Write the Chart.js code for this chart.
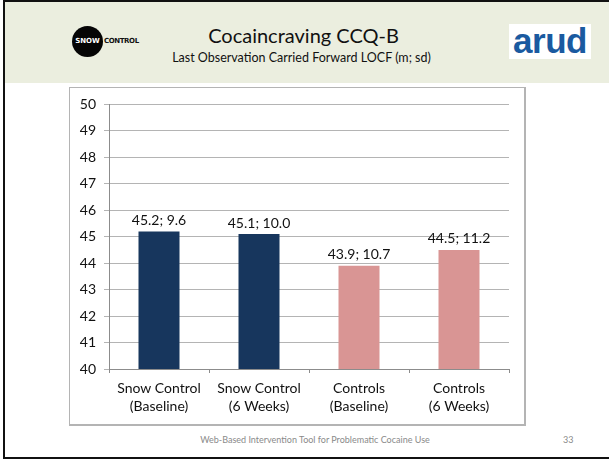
<!DOCTYPE html>
<html>
<head>
<meta charset="utf-8">
<script src="https://cdn.jsdelivr.net/npm/chart.js@4/dist/chart.umd.min.js"></script>
<style>
	body { margin: 0; background: #fff; font-family: Lato, sans-serif; }
	#slide { position: relative; width: 609px; height: 459px; overflow: hidden; background: #fff; }
	#frame { position: absolute; left: 3px; top: 0; width: 620px; height: 455px; border-left: 2px solid #111; border-top: 2px solid #111; border-bottom: 2px solid #111; box-sizing: content-box; }
	#head { position: absolute; left: 5px; top: 2px; width: 604px; height: 81px; background: #ebeedf; }
	#title { position: absolute; left: 0; width: 607px; top: 23px; text-align: center; font-size: 20px; color: #111; }
	#sub { position: absolute; left: 0; width: 603px; top: 50px; text-align: center; font-size: 12.5px; color: #111; }
	#snow { position: absolute; left: 72px; top: 26px; width: 31px; height: 31px; border-radius: 50%; background: #050505; color: #fff; font: bold 7px "DejaVu Sans", sans-serif; text-align: center; line-height: 31px; }
	#snowtxt { position: absolute; left: 104px; top: 37px; font: bold 7px "DejaVu Sans", sans-serif; color: #111; letter-spacing: -0.4px; }
	#arud { position: absolute; left: 509px; top: 24px; width: 82px; height: 35px; background: #fff; color: #1a5aa0; font: bold 35px "Liberation Sans", Arial, sans-serif; line-height: 33px; text-align: center; letter-spacing: -0.5px; }
	#box { position: absolute; left: 69px; top: 87px; width: 454px; height: 336px; border: 1px solid #b4b4b4; border-right: 2px solid #b4b4b4; border-bottom: 2px solid #b4b4b4; }
	#foot { position: absolute; left: 0; width: 630px; top: 434px; text-align: center; font-size: 9px; color: #8a8a8a; }
	#page { position: absolute; left: 563px; top: 434px; font-size: 9px; color: #8a8a8a; }
</style>
</head>
<body>
<div id="slide">
	<div id="head"></div>
	<div id="frame"></div>
	<div id="snow">SNOW</div>
	<div id="snowtxt">CONTROL</div>
	<div id="title">Cocaincraving CCQ-B</div>
	<div id="sub">Last Observation Carried Forward LOCF (m; sd)</div>
	<div id="arud">arud</div>
	<div id="box"><canvas id="cChart" width="454" height="336"></canvas></div>
	<div id="foot">Web-Based Intervention Tool for Problematic Cocaine Use</div>
	<div id="page">33</div>
</div>
<script>
const groups = [
	["Snow Control", "(Baseline)"],
	["Snow Control", "(6 Weeks)"],
	["Controls", "(Baseline)"],
	["Controls", "(6 Weeks)"],
];
const means = [45.2, 45.1, 43.9, 44.5];
const sds = [9.6, 10.0, 10.7, 11.2];
const barColors = ["#17365d", "#17365d", "#d99594", "#d99594"];

// "m; sd" above each bar
const valueLabels = {
	id: "valueLabels",
	afterDatasetsDraw(chart) {
		const c = chart.ctx;
		const meta = chart.getDatasetMeta(0);
		c.save();
		c.font = "14px Lato, sans-serif";
		c.fillStyle = "#111";
		c.textAlign = "center";
		c.textBaseline = "bottom";
		meta.data.forEach(function (bar, i) {
			c.fillText(means[i].toFixed(1) + "; " + sds[i].toFixed(1), bar.x, bar.y - 4);
		});
		c.restore();
	},
};

const ctx = document.getElementById("cChart");
const myChart = new Chart(ctx, {
	type: "bar",
	data: {
		labels: groups,
		datasets: [
			{
				data: means,
				backgroundColor: barColors,
				borderWidth: 0,
				categoryPercentage: 0.41,
				barPercentage: 1,
			},
		],
	},
	options: {
		responsive: false,
		animation: false,
		layout: { padding: { top: 14, right: 15, left: 0, bottom: 0 } },
		plugins: {
			legend: { display: false },
			tooltip: { enabled: false },
		},
		scales: {
			x: {
				grid: { drawOnChartArea: false, drawTicks: true, tickLength: 4, color: "#8c8c8c", offset: true },
				border: { color: "#8c8c8c" },
				ticks: { color: "#111", font: { family: "Lato", size: 14, lineHeight: 1.3 }, padding: 6, maxRotation: 0 },
				afterFit(scale) { scale.height = 55; },
			},
			y: {
				min: 40,
				max: 50,
				ticks: { stepSize: 1, color: "#111", font: { family: "Lato", size: 14 }, padding: 8 },
				grid: { color: "#b4b4b4", tickLength: 5 },
				border: { color: "#8c8c8c" },
				afterFit(scale) { scale.width = 39; },
			},
		},
	},
	plugins: [valueLabels],
});
</script>
</body>
</html>
